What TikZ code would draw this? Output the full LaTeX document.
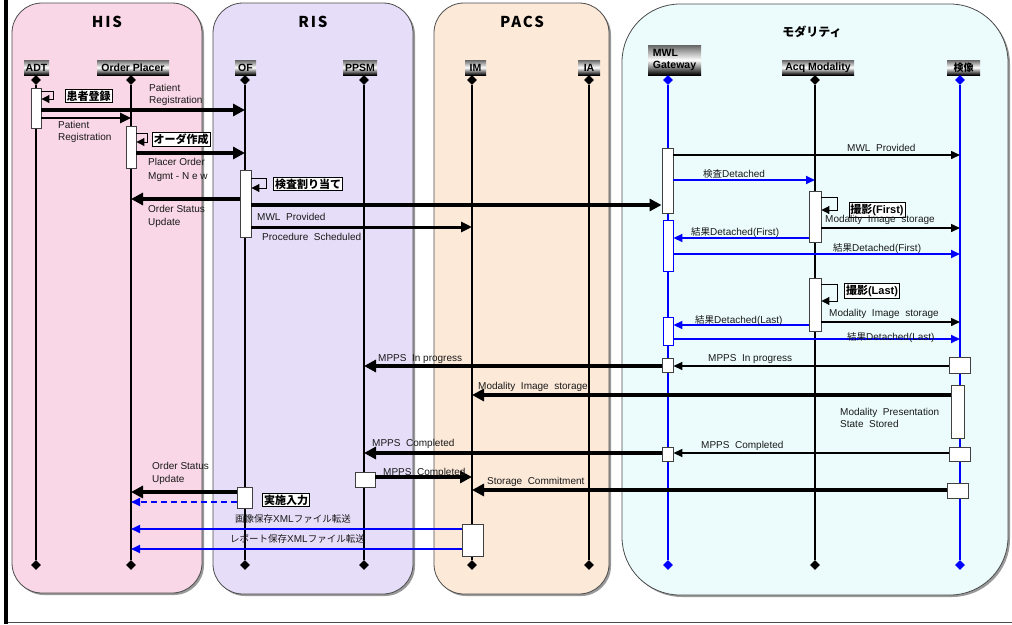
\documentclass[tikz,border=0pt]{standalone}
\usepackage{fontspec}
\setmainfont{Liberation Sans}
\newfontfamily\cjk{Noto Sans CJK JP}
\newfontfamily\ttlfont{Noto Sans CJK JP}[LetterSpace=12]
\usetikzlibrary{arrows.meta,fit,shapes.geometric}
\definecolor{hisc}{RGB}{249,215,230}
\definecolor{risc}{RGB}{230,222,249}
\definecolor{pacsc}{RGB}{252,233,216}
\definecolor{modc}{RGB}{236,252,253}
\definecolor{pblue}{RGB}{0,0,255}
\newcommand\jp[1]{{\cjk\fontsize{9.5}{12}\selectfont #1}}
\begin{document}
\begin{tikzpicture}[x=1pt,y=-1pt,
  lane/.style={draw=black!70, line width=0.8pt},
  lshadow/.style={fill=black!40},
  ttl/.style={font=\ttlfont\bfseries\fontsize{15}{16}\selectfont, inner sep=0pt},
  hdr/.style={font=\bfseries\fontsize{10.5}{11}\selectfont, inner sep=0pt, top color=black!60, bottom color=black, middle color=white, minimum height=15pt},
  dia/.style={diamond, fill=black, inner sep=0pt, minimum size=10pt},
  bdia/.style={diamond, fill=pblue, inner sep=0pt, minimum size=10pt},
  life/.style={line width=1.6pt, black},
  blife/.style={line width=1.6pt, pblue},
  act/.style={draw=black!75, fill=white, line width=0.9pt, inner sep=0pt},
  bact/.style={draw=pblue, fill=white, line width=0.9pt, inner sep=0pt},
  thickmsg/.style={line width=4pt, -{Triangle[length=12pt,width=12pt]}},
  midmsg/.style={line width=2.6pt, -{Triangle[length=11pt,width=10pt]}},
  thinmsg/.style={line width=1.5pt, -{Triangle[length=9pt,width=8pt]}},
  bmsg/.style={pblue, line width=1.8pt, -{Triangle[length=9pt,width=8pt]}},
  selfmsg/.style={line width=1pt, -{Triangle[length=8pt,width=8pt]}},
  lbl/.style={font=\fontsize{10}{12}\selectfont, inner sep=0pt, anchor=west, align=left, text=black!90},
  tag/.style={draw=black, fill=white, line width=0.8pt, font=\cjk\bfseries\fontsize{11}{12}\selectfont, inner sep=1.5pt}
]
\useasboundingbox (0,0) rectangle (1012,624);
% outer frame
\fill[black] (4,0) rectangle (8,624);
\draw[black!70, line width=1pt] (8,622) -- (1012,622);

% lanes
\fill[lshadow, rounded corners=30pt] (14,5) rectangle (204,595);
\draw[lane, fill=hisc, rounded corners=30pt] (12,3) rectangle (202,593);
\fill[lshadow, rounded corners=30pt] (215,5) rectangle (415,596);
\draw[lane, fill=risc, rounded corners=30pt] (213,3) rectangle (413,594);
\fill[lshadow, rounded corners=30pt] (436,5) rectangle (611,596);
\draw[lane, fill=pacsc, rounded corners=30pt] (434,3) rectangle (609,594);
\fill[lshadow, rounded corners=58pt] (624,6) rectangle (1010,597);
\draw[lane, fill=modc, rounded corners=58pt] (622,4) rectangle (1008,595);

\node[ttl] (tHIS) at (107,22) {HIS};
\node[ttl] (tRIS) at (313,22) {RIS};
\node[ttl] (tPACS) at (522,22) {PACS};
\node[font=\cjk\bfseries\fontsize{12}{13}\selectfont, inner sep=0pt] (tMOD) at (812,32) {モダリティ};

% headers
\node[hdr, minimum width=25pt] (hADT) at (36.5,67.5) {ADT};
\node[hdr, minimum width=72pt] (hOP) at (133,67.5) {Order Placer};
\node[hdr, minimum width=21pt] (hOF) at (245.5,67.5) {OF};
\node[hdr, minimum width=34pt] (hPPSM) at (360,67.5) {PPSM};
\node[hdr, minimum width=21pt] (hIM) at (475.5,67.5) {IM};
\node[hdr, minimum width=22pt] (hIA) at (589,67.5) {IA};
\node[hdr, minimum width=53pt, minimum height=30pt, align=left, font=\bfseries\fontsize{10.5}{12}\selectfont] (hMWL) at (674.5,60) {MWL\\Gateway};
\node[hdr, minimum width=72pt] (hACQ) at (818,67.5) {Acq Modality};
\node[hdr, minimum width=33pt, font=\cjk\bfseries\fontsize{10}{11}\selectfont] (hKEN) at (963.5,67.5) {検像};

% lifelines
\foreach \n/\x in {adt/36, op/131, of/245, ppsm/364, im/472, ia/589, acq/815} {
  \node[dia] (\n-T) at (\x,80) {};
  \node[dia] (\n-B) at (\x,565) {};
  \draw[life] (\n-T) -- (\n-B);
}
\foreach \n/\x in {mwl/668, ken/960} {
  \node[bdia] (\n-T) at (\x,80) {};
  \node[bdia] (\n-B) at (\x,565) {};
  \draw[blife] (\n-T) -- (\n-B);
}

% activation boxes
\node[act, fit={(31,88) (41,128)}] (adtA) {};
\node[act, fit={(126,126) (136,168)}] (opA) {};
\node[act, fit={(240,170) (251,237)}] (ofA) {};
\node[act, fit={(662,148) (673,213)}] (mwlA) {};
\node[bact, fit={(663,220) (673,271)}] (mwlB) {};
\node[act, fit={(809,191) (821,242)}] (acqA) {};
\node[act, fit={(809,278) (821,331)}] (acqB) {};
\node[bact, fit={(663,317) (673,345)}] (mwlC) {};
\node[act, fit={(662,358) (673,372)}] (mwlD) {};
\node[act, fit={(949,357) (970,373)}] (kenA) {};
\node[act, fit={(951,385) (964,438)}] (kenB) {};
\node[act, fit={(662,447) (673,461)}] (mwlE) {};
\node[act, fit={(949,447) (970,461)}] (kenC) {};
\node[act, fit={(355,472) (375,487)}] (ppsmA) {};
\node[act, fit={(947,483) (968,498)}] (kenD) {};
\node[act, fit={(237,487) (252,508)}] (ofB) {};
\node[act, fit={(462,524) (483,556)}] (imA) {};

% messages
\draw[selfmsg] (adtA.east |- 0,91) -- ++(12,0) -- ++(0,8) -- (adtA.east |- 0,99);
\draw[thickmsg] (adtA.east |- 0,110) -- (of-T |- 0,110);
\draw[midmsg] (adtA.east |- 0,118) -- (op-T |- 0,118);
\draw[selfmsg] (opA.east |- 0,133) -- ++(11,0) -- ++(0,9) -- (opA.east |- 0,142);
\draw[thickmsg] (opA.east |- 0,153) -- (of-T |- 0,153);
\draw[selfmsg] (ofA.east |- 0,178) -- ++(15,0) -- ++(0,10) -- (ofA.east |- 0,188);
\draw[thickmsg] (ofA.west |- 0,199) -- (op-T |- 0,199);
\draw[thickmsg] (ofA.east |- 0,205) -- (mwlA.west |- 0,205);
\draw[midmsg, line width=3pt] (ofA.east |- 0,227) -- (im-T |- 0,227);

\draw[thinmsg] (mwlA.east |- 0,155) -- (ken-T |- 0,155);
\draw[bmsg] (mwlA.east |- 0,180) -- (acq-T |- 0,180);
\draw[selfmsg] (acqA.east |- 0,197) -- ++(16,0) -- ++(0,13) -- (acqA.east |- 0,210);
\draw[thinmsg] (acqA.east |- 0,228) -- (ken-T |- 0,228);
\draw[bmsg] (acqA.west |- 0,238) -- (mwlB.east |- 0,238);
\draw[bmsg] (mwlB.east |- 0,254) -- (ken-T |- 0,254);
\draw[selfmsg] (acqB.east |- 0,284) -- ++(16,0) -- ++(0,17) -- (acqB.east |- 0,301);
\draw[thinmsg] (acqB.east |- 0,322) -- (ken-T |- 0,322);
\draw[bmsg] (acqB.west |- 0,325) -- (mwlC.east |- 0,325);
\draw[bmsg] (mwlC.east |- 0,339) -- (ken-T |- 0,339);
\draw[thinmsg] (kenA.west |- 0,366) -- (mwlD.east |- 0,366);
\draw[thickmsg] (mwlD.west |- 0,366) -- (ppsm-T |- 0,366);
\draw[thickmsg] (kenB.west |- 0,395) -- (im-T |- 0,395);
\draw[thinmsg] (kenC.west |- 0,453) -- (mwlE.east |- 0,453);
\draw[thickmsg] (mwlE.west |- 0,453) -- (ppsm-T |- 0,453);
\draw[thickmsg, line width=4.5pt] (ppsmA.east |- 0,477) -- (im-T |- 0,477);
\draw[thickmsg] (kenD.west |- 0,490) -- (im-T |- 0,490);
\draw[thickmsg] (ofB.west |- 0,492) -- (op-T |- 0,492);
\draw[bmsg, dash pattern=on 6pt off 4pt] (ofB.west |- 0,502) -- (op-T |- 0,502);
\draw[bmsg] (imA.west |- 0,529) -- (op-T |- 0,529);
\draw[bmsg] (imA.west |- 0,549) -- (op-T |- 0,549);

% tags
\node[tag] (g1) at (88.5,96) {患者登録};
\node[tag] (g2) at (181,139) {オーダ作成};
\node[tag] (g3) at (308,184) {検査割り当て};
\node[tag] (g4) at (877,210) {撮影{\fontspec{Liberation Sans}(First)}};
\node[tag] (g5) at (872,291) {撮影{\fontspec{Liberation Sans}(Last)}};
\node[tag] (g6) at (286,500) {実施入力};

% labels
\node[lbl] (t1) at (149,95) {Patient\\Registration};
\node[lbl] (t2) at (58,132) {Patient\\Registration};
\node[lbl, font=\fontsize{10}{14}\selectfont] (t3) at (148,170) {Placer Order\\Mgmt - N e w};
\node[lbl, font=\fontsize{10}{13}\selectfont] (t4) at (148,216.5) {Order Status\\Update};
\node[lbl] (t5) at (257,217) {MWL\ \ Provided};
\node[lbl] (t6) at (262,237) {Procedure\ \ Scheduled};
\node[lbl] (t7) at (847,148) {MWL\ \ Provided};
\node[lbl] (j1) at (703,174) {\jp{検査}Detached};
\node[lbl] (t8) at (825,220) {Modality\ \ Image\ \ storage};
\node[lbl] (j2) at (691,233) {\jp{結果}Detached(First)};
\node[lbl] (j3) at (833,249) {\jp{結果}Detached(First)};
\node[lbl] (t9) at (829,314) {Modality\ \ Image\ \ storage};
\node[lbl] (j4) at (695,321) {\jp{結果}Detached(Last)};
\node[lbl] (j5) at (847,338) {\jp{結果}Detached(Last)};
\node[lbl] (t10) at (708,359) {MPPS\ \ In progress};
\node[lbl] (t11) at (378,359) {MPPS\ \ In progress};
\node[lbl] (t12) at (478,387) {Modality\ \ Image\ \ storage};
\node[lbl] (t13) at (840,418) {Modality\ \ Presentation\\State\ \ Stored};
\node[lbl] (t14) at (701,446) {MPPS\ \ Completed};
\node[lbl] (t15) at (372,444) {MPPS\ \ Completed};
\node[lbl] (t16) at (383,473) {MPPS\ \ Completed};
\node[lbl] (t17) at (487,482) {Storage\ \ Commitment};
\node[lbl, font=\fontsize{10}{13}\selectfont] (t18) at (152,473.5) {Order Status\\Update};
\node[lbl] (j6) at (235,519) {\jp{画像保存}XML\jp{ファイル転送}};
\node[lbl] (j7) at (230,539) {\jp{レポート保存}XML\jp{ファイル転送}};
\end{tikzpicture}
\end{document}
